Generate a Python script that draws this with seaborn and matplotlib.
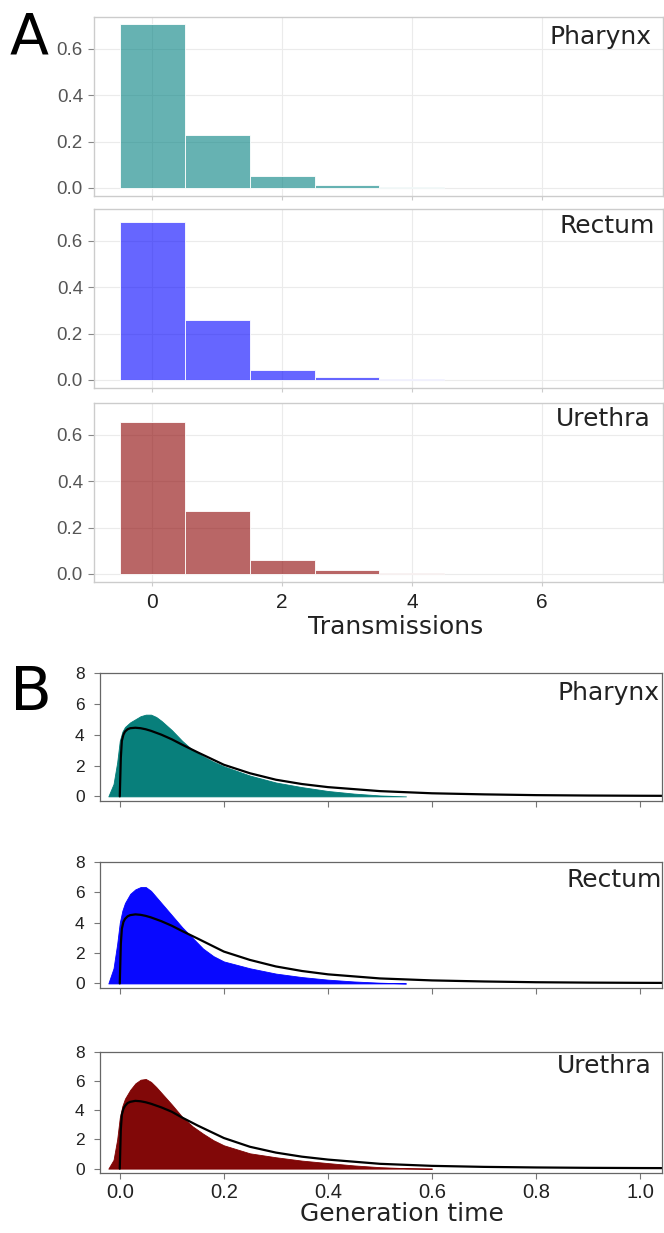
import numpy as np
import pandas as pd
import matplotlib
matplotlib.use("Agg")
import matplotlib.pyplot as plt
import matplotlib.font_manager as fm
import seaborn as sns

# ---------------- data ----------------
sites = ["Pharynx", "Rectum", "Urethra"]

# Panel A: distribution of number of transmissions
transmissions = [0, 1, 2, 3, 4]
pharynx_prob = [0.706, 0.227, 0.053, 0.011, 0.004]
rectum_prob = [0.683, 0.257, 0.043, 0.013, 0.004]
urethra_prob = [0.656, 0.270, 0.060, 0.017, 0.004]
trans_ticks = [0, 2, 4, 6]
prob_ticks = [0.0, 0.2, 0.4, 0.6]

# Panel B: generation-time densities (filled = posterior, black line = reference)
pharynx_fill_x = [-0.022, -0.012, -0.005, 0.0, 0.005, 0.01, 0.02, 0.03, 0.04, 0.05, 0.06, 0.07,
                  0.08, 0.1, 0.12, 0.14, 0.16, 0.18, 0.2, 0.25, 0.3, 0.35, 0.4, 0.45, 0.5, 0.55]
pharynx_fill_y = [0.0, 0.8, 2.2, 3.6, 4.2, 4.5, 4.8, 5.0, 5.2, 5.3, 5.3, 5.15,
                  4.9, 4.3, 3.6, 3.0, 2.6, 2.25, 1.95, 1.35, 0.9, 0.6, 0.35, 0.18, 0.06, 0.0]
rectum_fill_x = [-0.022, -0.012, -0.005, 0.0, 0.005, 0.01, 0.02, 0.03, 0.04, 0.05, 0.06, 0.07,
                 0.08, 0.1, 0.12, 0.14, 0.16, 0.18, 0.2, 0.25, 0.3, 0.35, 0.4, 0.45, 0.5, 0.55]
rectum_fill_y = [0.0, 1.0, 2.6, 4.0, 4.8, 5.3, 5.9, 6.2, 6.35, 6.35, 6.1, 5.7,
                 5.3, 4.5, 3.7, 3.0, 2.3, 1.8, 1.45, 1.0, 0.65, 0.42, 0.25, 0.13, 0.05, 0.0]
urethra_fill_x = [-0.022, -0.012, -0.005, 0.0, 0.005, 0.01, 0.02, 0.03, 0.04, 0.05, 0.06, 0.07,
                  0.08, 0.1, 0.12, 0.14, 0.16, 0.18, 0.2, 0.25, 0.3, 0.35, 0.4, 0.45, 0.5, 0.55, 0.6]
urethra_fill_y = [0.0, 0.6, 2.0, 3.5, 4.3, 4.8, 5.4, 5.85, 6.1, 6.15, 5.95, 5.6,
                  5.2, 4.4, 3.55, 2.9, 2.4, 1.95, 1.6, 1.05, 0.78, 0.55, 0.38, 0.22, 0.1, 0.03, 0.0]

line_x = [0.0, 0.002, 0.004, 0.007, 0.01, 0.015, 0.02, 0.03, 0.04, 0.05, 0.06, 0.08, 0.1, 0.12,
          0.15, 0.2, 0.25, 0.3, 0.35, 0.4, 0.5, 0.6, 0.7, 0.8, 0.9, 1.0, 1.05]
pharynx_line_y = [0.0, 2.5, 3.6, 4.0, 4.2, 4.35, 4.42, 4.45, 4.42, 4.35, 4.25, 4.0, 3.7, 3.35,
                  2.85, 2.05, 1.5, 1.08, 0.8, 0.6, 0.34, 0.2, 0.13, 0.08, 0.055, 0.04, 0.035]
rectum_line_y = [0.0, 2.6, 3.6, 4.05, 4.25, 4.42, 4.5, 4.55, 4.52, 4.45, 4.35, 4.1, 3.8, 3.45,
                 2.95, 2.1, 1.55, 1.12, 0.82, 0.6, 0.33, 0.2, 0.13, 0.08, 0.055, 0.04, 0.035]
urethra_line_y = [0.0, 2.7, 3.7, 4.1, 4.3, 4.5, 4.58, 4.65, 4.62, 4.55, 4.45, 4.2, 3.9, 3.5,
                  2.95, 2.1, 1.5, 1.1, 0.82, 0.62, 0.33, 0.19, 0.12, 0.08, 0.055, 0.04, 0.035]
gen_ticks = [0.0, 0.2, 0.4, 0.6, 0.8, 1.0]
dens_ticks = [0, 2, 4, 6, 8]

probs = {"Pharynx": pharynx_prob, "Rectum": rectum_prob, "Urethra": urethra_prob}
fills = {"Pharynx": (pharynx_fill_x, pharynx_fill_y),
         "Rectum": (rectum_fill_x, rectum_fill_y),
         "Urethra": (urethra_fill_x, urethra_fill_y)}
lines = {"Pharynx": pharynx_line_y, "Rectum": rectum_line_y, "Urethra": urethra_line_y}

# ---------------- style ----------------
sns.set_style("whitegrid")
plt.rcParams["font.family"] = ["DejaVu Sans"]
names = {f.name for f in fm.fontManager.ttflist}
NARROW = "Liberation Sans Narrow" if "Liberation Sans Narrow" in names else "Liberation Sans"
REG = "Liberation Sans"

W, H = 664, 1233
fig = plt.figure(figsize=(W / 100, H / 100), dpi=100)


def fax(left, top, right, bottom):
    return fig.add_axes([left / W, 1 - bottom / H, (right - left) / W, (bottom - top) / H])


# ---------------- Panel A ----------------
a_colors = {"Pharynx": "#008080", "Rectum": "#0000ff", "Urethra": "#8b0000"}
a_boxes = [(94, 17, 663, 196), (94, 209, 663, 388), (94, 403, 663, 582)]
a_label_base = {"Pharynx": 27, "Rectum": 24, "Urethra": 23}
a_label_right = {"Pharynx": 652, "Rectum": 655, "Urethra": 651}
for i, site in enumerate(sites):
    box = a_boxes[i]
    ax = fax(*box)
    df = pd.DataFrame({"transmissions": transmissions, "prob": probs[site]})
    sns.histplot(data=df, x="transmissions", weights="prob", discrete=True, stat="count",
                 color=a_colors[site], alpha=0.6, edgecolor="white", linewidth=0.6, ax=ax)
    ax.set_xlim(-0.9, 7.87)
    ax.set_ylim(-0.035, 0.738)
    ax.set_xticks(trans_ticks)
    ax.set_yticks(prob_ticks)
    ax.set_yticklabels([f"{v:.1f}" for v in prob_ticks], family=REG, fontsize=13.5, color="#555555")
    ax.grid(True, color="#ebebeb", linewidth=0.8)
    ax.set_axisbelow(True)
    for s in ax.spines.values():
        s.set_visible(True)
        s.set_color("#cccccc")
        s.set_linewidth(1.0)
    ax.tick_params(axis="y", length=4, width=0.8, color="#888888", pad=4, left=True)
    ax.tick_params(axis="x", length=3, width=0.8, color="#cccccc", pad=5, bottom=True)
    ax.set_ylabel("")
    if i == 2:
        ax.set_xticklabels([str(t) for t in trans_ticks], family=REG, fontsize=15, color="#222222")
        ax.set_xlabel("Transmissions", fontsize=18, color="#222222", va="center")
        ax.xaxis.set_label_coords((396 - 94) / 569, (582 - 627) / 179)
    else:
        ax.set_xticklabels([])
        ax.set_xlabel("")
    bw = box[2] - box[0]
    bh = box[3] - box[1]
    ax.text((a_label_right[site] - box[0]) / bw, 1 - a_label_base[site] / bh, site,
            transform=ax.transAxes, ha="right", va="baseline", fontsize=18, color="#222222")

fig.text(10 / W, 1 - 55 / H, "A", fontsize=41, va="baseline", ha="left", color="black")

# ---------------- Panel B ----------------
b_colors = {"Pharynx": "#007b77", "Rectum": "#0000ff", "Urethra": "#7d0000"}
b_boxes = [(100, 673, 662, 801), (100, 862, 662, 988), (100, 1052, 662, 1173)]
b_label_base = {"Pharynx": 27, "Rectum": 25, "Urethra": 21}
b_label_right = {"Pharynx": 660, "Rectum": 662, "Urethra": 652}
for i, site in enumerate(sites):
    box = b_boxes[i]
    ax = fax(*box)
    fx, fy = fills[site]
    ax.fill_between(fx, fy, 0, color=b_colors[site], linewidth=0.6, edgecolor=b_colors[site], alpha=0.97)
    sns.lineplot(x=line_x, y=lines[site], color="black", linewidth=1.6, ax=ax, sort=False)
    ax.set_xlim(-0.038, 1.042)
    ax.set_ylim(-0.3, 8)
    ax.grid(False)
    ax.set_facecolor("white")
    for s in ax.spines.values():
        s.set_visible(True)
        s.set_color("#666666")
        s.set_linewidth(0.9)
    ax.set_yticks(dens_ticks)
    ax.set_yticklabels([str(t) for t in dens_ticks], family=NARROW, fontsize=12.5, color="#222222")
    ax.set_xticks(gen_ticks)
    ax.tick_params(axis="both", direction="out", length=4, width=0.8, color="#777777",
                   left=True, bottom=True)
    ax.tick_params(axis="y", pad=7)
    ax.tick_params(axis="x", pad=3)
    if i == 2:
        ax.set_xticklabels([f"{t:.1f}" for t in gen_ticks], family=NARROW, fontsize=14.5, color="#222222")
        ax.set_xlabel("Generation time", fontsize=18, color="#222222", va="center")
        ax.xaxis.set_label_coords((402 - 100) / 562, (1173 - 1214) / 121)
    else:
        ax.set_xticklabels([])
        ax.set_xlabel("")
    ax.set_ylabel("")
    bw = box[2] - box[0]
    bh = box[3] - box[1]
    ax.text((b_label_right[site] - box[0]) / bw, 1 - b_label_base[site] / bh, site,
            transform=ax.transAxes, ha="right", va="baseline", fontsize=18, color="#222222")

fig.text(10 / W, 1 - 710 / H, "B", fontsize=44, va="baseline", ha="left", color="black")

fig.savefig("out.png", dpi=100)
